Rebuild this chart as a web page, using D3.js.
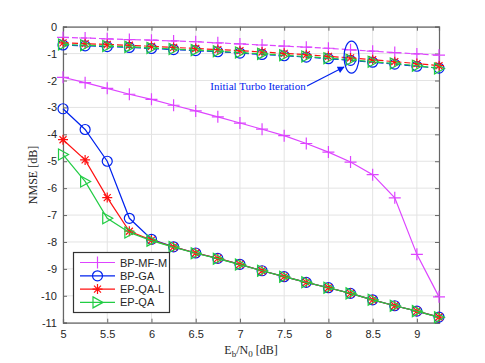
<!DOCTYPE html>
<html><head><meta charset="utf-8">
<script src="https://cdn.jsdelivr.net/npm/d3@7"></script>
<style>body{margin:0;background:#fff}</style>
</head><body>
<svg id="c" width="485" height="363"></svg>
<script>
const snr = [5,5.25,5.5,5.75,6,6.25,6.5,6.75,7,7.25,7.5,7.75,8,8.25,8.5,8.75,9,9.25];
// final (converged) iterations - solid lines
const bpmfm = [-1.88,-2.08,-2.29,-2.51,-2.70,-2.92,-3.13,-3.35,-3.58,-3.81,-4.05,-4.34,-4.66,-5.03,-5.50,-6.36,-8.46,-10.04];
const bpga  = [-3.05,-3.82,-5.00,-7.12,-7.90,-8.18,-8.41,-8.61,-8.83,-9.07,-9.29,-9.50,-9.70,-9.91,-10.15,-10.37,-10.57,-10.79];
const epqal = [-4.20,-4.95,-6.35,-7.60,-7.93,-8.18,-8.41,-8.61,-8.83,-9.07,-9.29,-9.50,-9.70,-9.91,-10.15,-10.37,-10.57,-10.79];
const epqa  = [-4.75,-5.75,-7.12,-7.65,-7.95,-8.19,-8.42,-8.62,-8.84,-9.07,-9.29,-9.50,-9.70,-9.91,-10.15,-10.37,-10.57,-10.80];
// initial turbo iteration - dashed lines
const bpmfm0 = [-0.40,-0.42,-0.45,-0.48,-0.50,-0.53,-0.56,-0.60,-0.64,-0.68,-0.72,-0.76,-0.80,-0.86,-0.91,-0.96,-1.01,-1.06];
const bpga0  = [-0.68,-0.71,-0.74,-0.77,-0.81,-0.85,-0.89,-0.93,-0.98,-1.03,-1.08,-1.13,-1.19,-1.25,-1.32,-1.39,-1.47,-1.54];
const epqal0 = [-0.60,-0.63,-0.66,-0.69,-0.73,-0.77,-0.81,-0.85,-0.89,-0.94,-0.99,-1.04,-1.10,-1.16,-1.23,-1.30,-1.37,-1.45];
const epqa0  = [-0.66,-0.69,-0.72,-0.75,-0.79,-0.83,-0.87,-0.91,-0.96,-1.01,-1.06,-1.11,-1.17,-1.23,-1.30,-1.37,-1.45,-1.55];
const xTicks = [5,5.5,6,6.5,7,7.5,8,8.5,9];
const yTicks = [0,-1,-2,-3,-4,-5,-6,-7,-8,-9,-10,-11];
const names = ["BP-MF-M","BP-GA","EP-QA-L","EP-QA"];
const colors = ["#dd44ff","#0022ee","#ff1111","#22cc44"];
const markers = ["plus","circle","star","tri"];

const svg = d3.select("#c");
const L=63, R=439, T=26.7, B=322.7;
const x = d3.scaleLinear().domain([5,9.25]).range([L,R]);
const y = d3.scaleLinear().domain([-11,0]).range([B,T]);

// grid
const g = svg.append("g");
g.selectAll(".gx").data(xTicks).enter().append("line")
  .attr("x1",d=>x(d)).attr("x2",d=>x(d)).attr("y1",T).attr("y2",B)
  .attr("stroke","#e3e3e3").attr("stroke-width",1);
g.selectAll(".gy").data(yTicks).enter().append("line")
  .attr("y1",d=>y(d)).attr("y2",d=>y(d)).attr("x1",L).attr("x2",R)
  .attr("stroke","#e3e3e3").attr("stroke-width",1);

// axes
const ax = d3.axisBottom(x).tickValues(xTicks).tickSize(-4).tickPadding(8).tickFormat(d3.format("~g"));
const ay = d3.axisLeft(y).tickValues(yTicks).tickSize(-4).tickPadding(6).tickFormat(d=>d===0?"0":d3.format("~g")(d).replace("−","-"));
const gx = svg.append("g").attr("transform",`translate(0,${B})`).call(ax);
const gy = svg.append("g").attr("transform",`translate(${L},0)`).call(ay);
const gx2 = svg.append("g").attr("transform",`translate(0,${T})`).call(d3.axisTop(x).tickValues(xTicks).tickSize(-4).tickFormat(""));
const gy2 = svg.append("g").attr("transform",`translate(${R},0)`).call(d3.axisRight(y).tickValues(yTicks).tickSize(-4).tickFormat(""));
[gx,gy,gx2,gy2].forEach(a=>{
  a.selectAll("path").attr("stroke","#666").attr("stroke-width",1.2);
  a.selectAll("line").attr("stroke","#666");
  a.selectAll("text").attr("font-family","Liberation Sans, Arial, sans-serif").attr("font-size","11px").attr("fill","#262626");
});

function drawMarker(sel, type, color, cx, cy){
  if(type==="plus"){
    sel.append("path").attr("d",`M${cx-6},${cy}H${cx+6}M${cx},${cy-6}V${cy+6}`).attr("stroke",color).attr("stroke-width",1.2).attr("fill","none");
  } else if(type==="circle"){
    sel.append("circle").attr("cx",cx).attr("cy",cy).attr("r",5).attr("stroke",color).attr("stroke-width",1.2).attr("fill","none");
  } else if(type==="star"){
    const r=5, r2=3.5;
    sel.append("path").attr("d",`M${cx-r},${cy}H${cx+r}M${cx},${cy-r}V${cy+r}M${cx-r2},${cy-r2}L${cx+r2},${cy+r2}M${cx-r2},${cy+r2}L${cx+r2},${cy-r2}`).attr("stroke",color).attr("stroke-width",1.2).attr("fill","none");
  } else if(type==="tri"){
    sel.append("path").attr("d",`M${cx-4.5},${cy-5.5}L${cx+5.5},${cy}L${cx-4.5},${cy+5.5}Z`).attr("stroke",color).attr("stroke-width",1.2).attr("fill","none");
  }
}

const line = d3.line().x((d,i)=>x(snr[i])).y(d=>y(d));
const solid = [bpmfm,bpga,epqal,epqa];
const dashed = [bpmfm0,bpga0,epqal0,epqa0];
const plot = svg.append("g");
function drawSeries(data,k,dash){
  plot.append("path").datum(data).attr("d",line).attr("fill","none")
    .attr("stroke",colors[k]).attr("stroke-width",1.2).attr("stroke-dasharray",dash?"6,3":null);
  const mg = plot.append("g");
  data.forEach((v,i)=>drawMarker(mg,markers[k],colors[k],x(snr[i]),y(v)));
}
dashed.forEach((d,k)=>drawSeries(d,k,true));
solid.forEach((d,k)=>drawSeries(d,k,false));

// annotation
const ann = svg.append("g");
ann.append("ellipse").attr("cx",x(8.25)+1).attr("cy",y(-1.13)).attr("rx",7.5).attr("ry",16)
  .attr("fill","none").attr("stroke","#0022ee").attr("stroke-width",1.2);
svg.append("defs").append("marker").attr("id","ah").attr("viewBox","0 0 10 10").attr("refX",9).attr("refY",5)
  .attr("markerWidth",9).attr("markerHeight",7).attr("orient","auto").attr("markerUnits","userSpaceOnUse")
  .append("path").attr("d","M0,0L10,5L0,10Z").attr("fill","#0022ee");
ann.append("line").attr("x1",307).attr("y1",86).attr("x2",344).attr("y2",67)
  .attr("stroke","#0022ee").attr("stroke-width",1.2).attr("marker-end","url(#ah)");
ann.append("text").attr("x",258).attr("y",89.5).attr("text-anchor","middle")
  .attr("font-family","Liberation Serif, Times New Roman, serif").attr("font-size","11px").attr("fill","#0022ee")
  .text("Initial Turbo Iteration");

// axis labels
svg.append("text").attr("transform","translate(37,175) rotate(-90)").attr("text-anchor","middle")
  .attr("font-family","Liberation Serif, Times New Roman, serif").attr("font-size","12px").attr("fill","#262626")
  .text("NMSE [dB]");
const xl = svg.append("text").attr("x",251).attr("y",354).attr("text-anchor","middle")
  .attr("font-family","Liberation Serif, Times New Roman, serif").attr("font-size","12px").attr("fill","#262626");
xl.append("tspan").text("E");
xl.append("tspan").attr("dy",3).attr("font-size","9px").text("b");
xl.append("tspan").attr("dy",-3).text("/N");
xl.append("tspan").attr("dy",3).attr("font-size","9px").text("0");
xl.append("tspan").attr("dy",-3).text(" [dB]");

// legend
const lg = svg.append("g");
lg.append("rect").attr("x",73.5).attr("y",252.5).attr("width",96).attr("height",60)
  .attr("fill","#fff").attr("stroke","#333").attr("stroke-width",1.2);
names.forEach((n,k)=>{
  const yy = 262.5 + k*13.3;
  lg.append("line").attr("x1",80).attr("x2",115).attr("y1",yy).attr("y2",yy).attr("stroke",colors[k]).attr("stroke-width",1.2);
  drawMarker(lg,markers[k],colors[k],97.5,yy);
  lg.append("text").attr("x",120).attr("y",yy+4).attr("font-family","Liberation Sans, Arial, sans-serif")
    .attr("font-size","11px").attr("fill","#262626").text(n);
});
</script>
</body></html>
